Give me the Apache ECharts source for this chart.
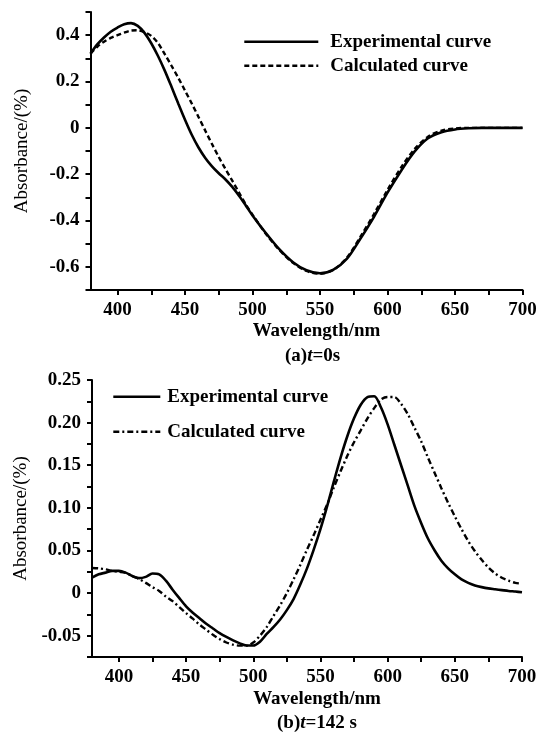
<!DOCTYPE html>
<html lang="en">
<head>
    <meta charset="UTF-8">
    <title>Absorbance spectra</title>
    <script src="https://cdn.jsdelivr.net/npm/echarts@6.0.0/dist/echarts.min.js"></script>
    <style>
        html, body { margin: 0; padding: 0; background: #fff; }
        #chart { width: 542px; height: 738px; }
    </style>
</head>
<body>
<div id="chart"></div>
<script>
    // (a) t=0s
    var wlA = [380, 385, 390, 395, 400, 405, 410, 415, 420, 425, 430, 435, 440, 445, 450, 455, 460, 465, 470, 475, 480, 485, 490, 495, 500,
        510, 520, 530, 540, 550, 560, 570, 580, 590, 600, 610, 620, 630, 640, 650, 660, 670, 680, 690, 700];
    var expA = [0.32, 0.36, 0.39, 0.415, 0.433, 0.447, 0.452, 0.44, 0.41, 0.365, 0.31, 0.247, 0.177, 0.105, 0.035, -0.03, -0.085, -0.13, -0.166, -0.196, -0.223, -0.255, -0.293, -0.335, -0.378,
        -0.455, -0.525, -0.58, -0.615, -0.628, -0.612, -0.565, -0.478, -0.384, -0.28, -0.186, -0.103, -0.045, -0.019, -0.007, -0.002, 0, 0, 0, 0];
    var calcA = [0.32, 0.35, 0.372, 0.388, 0.4, 0.411, 0.42, 0.421, 0.413, 0.397, 0.366, 0.318, 0.268, 0.216, 0.161, 0.105, 0.047, -0.012, -0.07, -0.126, -0.178, -0.228, -0.279, -0.33, -0.375,
        -0.458, -0.528, -0.583, -0.618, -0.63, -0.613, -0.56, -0.47, -0.372, -0.268, -0.172, -0.092, -0.038, -0.012, -0.003, 0, 0, 0, 0, 0];

    // (b) t=142s
    var wlB = [380, 385, 390, 395, 400, 405, 410, 415, 420, 425, 430, 435, 440, 445, 450, 455, 460, 465, 470, 475, 480, 485, 490, 495, 500,
        505, 510, 515, 520, 525, 530, 535, 540, 545, 550, 555, 560, 565, 570, 575, 580, 585, 590, 595, 600,
        605, 610, 615, 620, 625, 630, 635, 640, 645, 650, 655, 660, 665, 670, 675, 680, 685, 690, 695, 700];
    var expB = [0.018, 0.022, 0.024, 0.026, 0.026, 0.024, 0.020, 0.0175, 0.019, 0.023, 0.022, 0.0145, 0.004, -0.006, -0.0155, -0.023, -0.0295, -0.036, -0.0415, -0.047, -0.0515, -0.0555, -0.059, -0.0615, -0.0615,
        -0.057, -0.048, -0.040, -0.031, -0.020, -0.007, 0.010, 0.029, 0.051, 0.075, 0.102, 0.131, 0.159, 0.184, 0.205, 0.221, 0.23, 0.231, 0.218, 0.198,
        0.174, 0.150, 0.126, 0.102, 0.082, 0.064, 0.050, 0.038, 0.029, 0.022, 0.016, 0.012, 0.009, 0.007, 0.0055, 0.0045, 0.0035, 0.0025, 0.0018, 0.001];
    var calcB = [0.0295, 0.029, 0.028, 0.026, 0.025, 0.0238, 0.020, 0.0165, 0.012, 0.007, 0.0025, -0.004, -0.0095, -0.0165, -0.0235, -0.030, -0.037, -0.043, -0.049, -0.054, -0.058, -0.0605, -0.0617, -0.0617, -0.058,
        -0.050, -0.040, -0.027, -0.0143, 0.0, 0.016, 0.033, 0.051, 0.068, 0.086, 0.104, 0.124, 0.143, 0.161, 0.177, 0.191, 0.205, 0.217, 0.227, 0.230,
        0.230, 0.222, 0.210, 0.194, 0.178, 0.159, 0.141, 0.123, 0.106, 0.090, 0.075, 0.061, 0.049, 0.039, 0.030, 0.023, 0.018, 0.0145, 0.012, 0.011];

    // ticks
    var xTicks = [400, 425, 450, 475, 500, 525, 550, 575, 600, 625, 650, 675, 700];
    var xLabels = [400, 450, 500, 550, 600, 650, 700];
    var yTicksA = [-0.7, -0.6, -0.5, -0.4, -0.3, -0.2, -0.1, 0, 0.1, 0.2, 0.3, 0.4, 0.5];
    var yLabelsA = [-0.6, -0.4, -0.2, 0, 0.2, 0.4];
    var yTicksB = [-0.075, -0.05, -0.025, 0, 0.025, 0.05, 0.075, 0.1, 0.125, 0.15, 0.175, 0.2, 0.225, 0.25];
    var yLabelsB = [-0.05, 0, 0.05, 0.10, 0.15, 0.20, 0.25];

    var FONT = 'Liberation Serif';
    var FS = 19;
    var FW = 'bold';
    var names = ['Experimental curve', 'Calculated curve'];

    function pairs(xs, ys) {
        return xs.map(function (x, i) { return [x, ys[i]]; });
    }

    function xAxisOf(idx, nameGap) {
        return {
            type: 'value', gridIndex: idx, min: 380, max: 700,
            name: 'Wavelength/nm', nameLocation: 'middle', nameGap: nameGap,
            nameTextStyle: { fontFamily: FONT, fontSize: FS, fontWeight: FW, color: '#000', padding: [0, 0, 0, 20] },
            axisLine: { onZero: false, lineStyle: { color: '#000', width: 2 } },
            axisTick: { show: true, length: 5, lineStyle: { color: '#000', width: 2 }, customValues: xTicks },
            axisLabel: { margin: 11, fontFamily: FONT, fontSize: FS, fontWeight: FW, color: '#000', customValues: xLabels },
            splitLine: { show: false }
        };
    }

    function yAxisOf(idx, min, max, ticks, labels, fmt, nameGap) {
        return {
            type: 'value', gridIndex: idx, min: min, max: max,
            name: 'Absorbance/(%)', nameLocation: 'middle', nameGap: nameGap,
            nameTextStyle: { fontFamily: FONT, fontSize: FS, color: '#000' },
            axisLine: { show: true, onZero: false, lineStyle: { color: '#000', width: 2 } },
            axisTick: { show: true, length: 5, lineStyle: { color: '#000', width: 2 }, customValues: ticks },
            axisLabel: { margin: 11, fontFamily: FONT, fontSize: FS, fontWeight: FW, color: '#000', customValues: labels, formatter: fmt },
            splitLine: { show: false }
        };
    }

    var fmtA = function (v) { return v === 0 ? '0' : String(Math.round(v * 10) / 10); };
    var fmtB = function (v) { return Math.abs(v) < 1e-9 ? '0' : v.toFixed(2); };

    var solid = { color: '#000', width: 2.6, type: 'solid' };
    var dashA = { color: '#000', width: 2.4, type: [5, 3] };
    var dashB = { color: '#000', width: 2.4, type: [6, 3, 2, 3] };

    function line(name, idx, data, style) {
        return {
            name: name, type: 'line', xAxisIndex: idx, yAxisIndex: idx,
            data: data, smooth: 0.3, symbol: 'none', lineStyle: style, itemStyle: { color: '#000' },
            animation: false
        };
    }

    var legendText = { fontFamily: FONT, fontSize: FS, fontWeight: FW, color: '#000', lineHeight: 20 };
    var noDot = { opacity: 0 };
    var capRich = {
        n: { fontFamily: FONT, fontSize: FS, fontWeight: FW, color: '#000' },
        i: { fontFamily: FONT, fontSize: FS, fontWeight: FW, fontStyle: 'italic', color: '#000' }
    };

    var chart = echarts.init(document.getElementById('chart'), null, { renderer: 'canvas' });
    chart.setOption({
        backgroundColor: '#fff',
        animation: false,
        grid: [
            { left: 90.5, top: 12, width: 432, height: 278 },
            { left: 92, top: 380, width: 430, height: 277 }
        ],
        xAxis: [xAxisOf(0, 32), xAxisOf(1, 33)],
        yAxis: [
            yAxisOf(0, -0.7, 0.5, yTicksA, yLabelsA, fmtA, 59),
            yAxisOf(1, -0.075, 0.25, yTicksB, yLabelsB, fmtB, 61)
        ],
        legend: [
            {
                orient: 'vertical', left: 243, top: 31.7, padding: 0, itemWidth: 74, itemHeight: 14, itemGap: 4,
                data: [{ name: names[0], lineStyle: solid, itemStyle: noDot }, { name: names[1], lineStyle: dashA, itemStyle: noDot }],
                textStyle: Object.assign({ padding: [0, 0, 0, 7] }, legendText), selectedMode: false
            },
            {
                orient: 'vertical', left: 112, top: 386.7, padding: 0, itemWidth: 47, itemHeight: 14, itemGap: 15,
                data: [{ name: names[0], lineStyle: solid, itemStyle: noDot }, { name: names[1], lineStyle: dashB, itemStyle: noDot }],
                textStyle: Object.assign({ padding: [0, 0, 0, 2] }, legendText), selectedMode: false
            }
        ],
        title: [
            {
                text: '{n|(a)}{i|t}{n|=0s}', left: 285, top: 347, padding: 0,
                textStyle: { fontWeight: FW, rich: capRich }
            },
            {
                text: '{n|(b)}{i|t}{n|=142 s}', left: 277, top: 714, padding: 0,
                textStyle: { fontWeight: FW, rich: capRich }
            }
        ],
        series: [
            line(names[0], 0, pairs(wlA, expA), solid),
            line(names[1], 0, pairs(wlA, calcA), dashA),
            line(names[0], 1, pairs(wlB, expB), solid),
            line(names[1], 1, pairs(wlB, calcB), dashB)
        ]
    });
</script>
</body>
</html>
